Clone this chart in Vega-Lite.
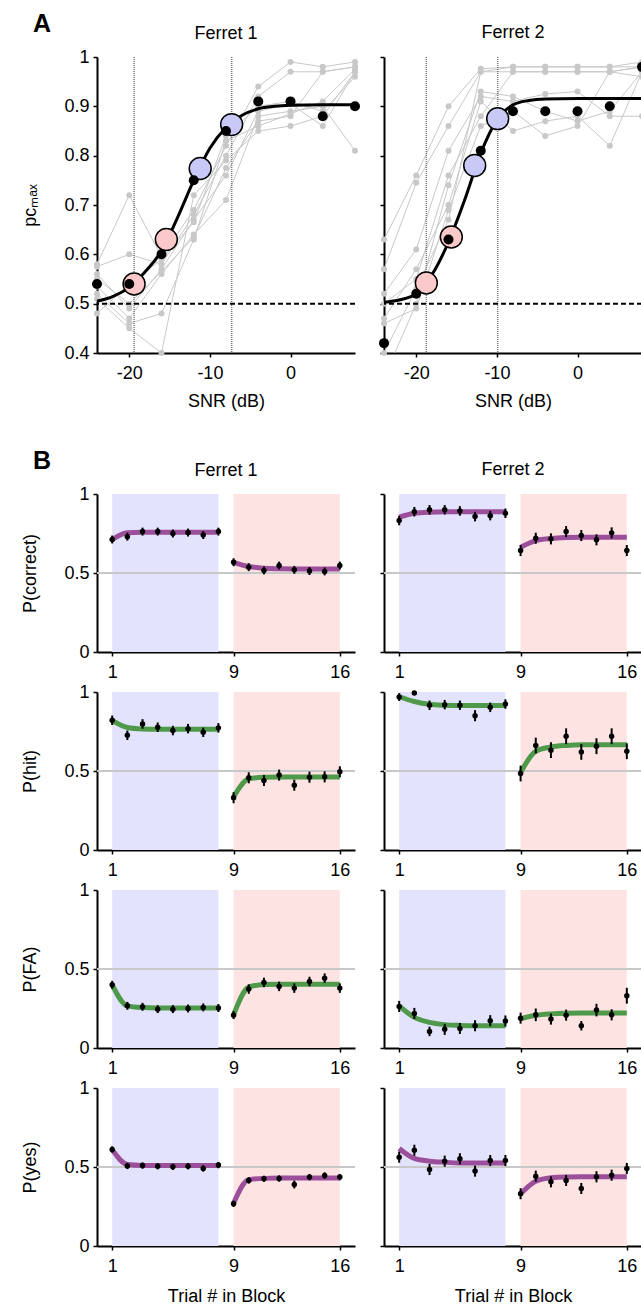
{
"$schema": "https://vega.github.io/schema/vega-lite/v6.json",
"padding": {"left": 21, "top": 12, "right": 0, "bottom": 4},
"autosize": {"type": "pad"},
"config": {
  "font": "Liberation Sans",
  "view": {"stroke": null},
  "axis": {"domainColor": "black", "domainWidth": 2, "tickColor": "black", "tickWidth": 1.5, "tickSize": 4, "labelColor": "black", "labelFontSize": 18, "labelFont": "Liberation Sans", "labelPadding": 4, "titleFontSize": 18, "titleFont": "Liberation Sans", "titleFontWeight": "normal", "titleColor": "black", "grid": false},
  "axisX": {"labelPadding": 7},
  "title": {"fontSize": 18, "fontWeight": "normal", "color": "black", "font": "Liberation Sans", "offset": 5}
},
"datasets": {
  "sess": [
    {"f":1,"s":1,"x":-24,"y":0.58},{"f":1,"s":1,"x":-20,"y":0.72},{"f":1,"s":1,"x":-16,"y":0.595},{"f":1,"s":1,"x":-12,"y":0.69},{"f":1,"s":1,"x":-8,"y":0.82},{"f":1,"s":1,"x":-4,"y":0.94},{"f":1,"s":1,"x":0,"y":0.99},{"f":1,"s":1,"x":4,"y":0.98},{"f":1,"s":1,"x":8,"y":0.99},
    {"f":1,"s":2,"x":-24,"y":0.575},{"f":1,"s":2,"x":-20,"y":0.60},{"f":1,"s":2,"x":-16,"y":0.58},{"f":1,"s":2,"x":-12,"y":0.68},{"f":1,"s":2,"x":-8,"y":0.80},{"f":1,"s":2,"x":-4,"y":0.92},{"f":1,"s":2,"x":0,"y":0.97},{"f":1,"s":2,"x":4,"y":0.97},{"f":1,"s":2,"x":8,"y":0.98},
    {"f":1,"s":3,"x":-24,"y":0.56},{"f":1,"s":3,"x":-20,"y":0.49},{"f":1,"s":3,"x":-16,"y":0.57},{"f":1,"s":3,"x":-12,"y":0.67},{"f":1,"s":3,"x":-8,"y":0.76},{"f":1,"s":3,"x":-4,"y":0.89},{"f":1,"s":3,"x":0,"y":0.905},{"f":1,"s":3,"x":4,"y":0.86},{"f":1,"s":3,"x":8,"y":0.97},
    {"f":1,"s":4,"x":-24,"y":0.535},{"f":1,"s":4,"x":-20,"y":0.47},{"f":1,"s":4,"x":-16,"y":0.56},{"f":1,"s":4,"x":-12,"y":0.64},{"f":1,"s":4,"x":-8,"y":0.71},{"f":1,"s":4,"x":-4,"y":0.88},{"f":1,"s":4,"x":0,"y":0.89},{"f":1,"s":4,"x":4,"y":0.90},{"f":1,"s":4,"x":8,"y":0.81},
    {"f":1,"s":5,"x":-24,"y":0.52},{"f":1,"s":5,"x":-20,"y":0.46},{"f":1,"s":5,"x":-16,"y":0.48},{"f":1,"s":5,"x":-12,"y":0.63},{"f":1,"s":5,"x":-8,"y":0.83},{"f":1,"s":5,"x":-4,"y":0.86},{"f":1,"s":5,"x":0,"y":0.885},{"f":1,"s":5,"x":4,"y":0.91},{"f":1,"s":5,"x":8,"y":0.975},
    {"f":1,"s":6,"x":-24,"y":0.51},{"f":1,"s":6,"x":-20,"y":0.45},{"f":1,"s":6,"x":-16,"y":0.40},{"f":1,"s":6,"x":-12,"y":0.72},{"f":1,"s":6,"x":-8,"y":0.79},{"f":1,"s":6,"x":-4,"y":0.85},{"f":1,"s":6,"x":0,"y":0.86},{"f":1,"s":6,"x":4,"y":0.88},{"f":1,"s":6,"x":8,"y":0.97},
    {"f":1,"s":7,"x":-24,"y":0.48},{"f":1,"s":7,"x":-20,"y":0.54},{"f":1,"s":7,"x":-16,"y":0.59},{"f":1,"s":7,"x":-12,"y":0.665},{"f":1,"s":7,"x":-8,"y":0.84},{"f":1,"s":7,"x":-4,"y":0.90},{"f":1,"s":7,"x":0,"y":0.91},{"f":1,"s":7,"x":4,"y":0.89},{"f":1,"s":7,"x":8,"y":0.96},
    {"f":1,"s":8,"x":-24,"y":0.55},{"f":1,"s":8,"x":-20,"y":0.50},{"f":1,"s":8,"x":-16,"y":0.565},{"f":1,"s":8,"x":-12,"y":0.635},{"f":1,"s":8,"x":-8,"y":0.775},{"f":1,"s":8,"x":-4,"y":0.87},{"f":1,"s":8,"x":0,"y":0.88},{"f":1,"s":8,"x":4,"y":0.97},{"f":1,"s":8,"x":8,"y":0.98},
    {"f":2,"s":1,"x":-24,"y":0.63},{"f":2,"s":1,"x":-20,"y":0.76},{"f":2,"s":1,"x":-16,"y":0.90},{"f":2,"s":1,"x":-12,"y":0.976},{"f":2,"s":1,"x":-8,"y":0.98},{"f":2,"s":1,"x":-4,"y":0.98},{"f":2,"s":1,"x":0,"y":0.98},{"f":2,"s":1,"x":4,"y":0.98},{"f":2,"s":1,"x":8,"y":0.99},
    {"f":2,"s":2,"x":-24,"y":0.57},{"f":2,"s":2,"x":-20,"y":0.745},{"f":2,"s":2,"x":-16,"y":0.86},{"f":2,"s":2,"x":-12,"y":0.97},{"f":2,"s":2,"x":-8,"y":0.97},{"f":2,"s":2,"x":-4,"y":0.97},{"f":2,"s":2,"x":0,"y":0.97},{"f":2,"s":2,"x":4,"y":0.97},{"f":2,"s":2,"x":8,"y":0.98},
    {"f":2,"s":3,"x":-24,"y":0.52},{"f":2,"s":3,"x":-20,"y":0.61},{"f":2,"s":3,"x":-16,"y":0.81},{"f":2,"s":3,"x":-12,"y":0.92},{"f":2,"s":3,"x":-8,"y":0.91},{"f":2,"s":3,"x":-4,"y":0.925},{"f":2,"s":3,"x":0,"y":0.93},{"f":2,"s":3,"x":4,"y":0.88},{"f":2,"s":3,"x":8,"y":0.88},
    {"f":2,"s":4,"x":-24,"y":0.47},{"f":2,"s":4,"x":-20,"y":0.57},{"f":2,"s":4,"x":-16,"y":0.70},{"f":2,"s":4,"x":-12,"y":0.91},{"f":2,"s":4,"x":-8,"y":0.85},{"f":2,"s":4,"x":-4,"y":0.87},{"f":2,"s":4,"x":0,"y":0.88},{"f":2,"s":4,"x":4,"y":0.82},{"f":2,"s":4,"x":8,"y":0.97},
    {"f":2,"s":5,"x":-24,"y":0.46},{"f":2,"s":5,"x":-20,"y":0.49},{"f":2,"s":5,"x":-16,"y":0.69},{"f":2,"s":5,"x":-12,"y":0.86},{"f":2,"s":5,"x":-8,"y":0.89},{"f":2,"s":5,"x":-4,"y":0.84},{"f":2,"s":5,"x":0,"y":0.86},{"f":2,"s":5,"x":4,"y":0.97},{"f":2,"s":5,"x":8,"y":0.98},
    {"f":2,"s":6,"x":-24,"y":0.40},{"f":2,"s":6,"x":-20,"y":0.53},{"f":2,"s":6,"x":-16,"y":0.67},{"f":2,"s":6,"x":-12,"y":0.97},{"f":2,"s":6,"x":-8,"y":0.98},{"f":2,"s":6,"x":-4,"y":0.98},{"f":2,"s":6,"x":0,"y":0.98},{"f":2,"s":6,"x":4,"y":0.98},{"f":2,"s":6,"x":8,"y":0.98},
    {"f":2,"s":7,"x":-24,"y":0.35},{"f":2,"s":7,"x":-20,"y":0.50},{"f":2,"s":7,"x":-16,"y":0.74},{"f":2,"s":7,"x":-12,"y":0.93},{"f":2,"s":7,"x":-8,"y":0.92},{"f":2,"s":7,"x":-4,"y":0.89},{"f":2,"s":7,"x":0,"y":0.87},{"f":2,"s":7,"x":4,"y":0.89},{"f":2,"s":7,"x":8,"y":0.97},
    {"f":2,"s":8,"x":-24,"y":0.50},{"f":2,"s":8,"x":-20,"y":0.55},{"f":2,"s":8,"x":-16,"y":0.76},{"f":2,"s":8,"x":-12,"y":0.88},{"f":2,"s":8,"x":-8,"y":0.97},{"f":2,"s":8,"x":-4,"y":0.97},{"f":2,"s":8,"x":0,"y":0.97},{"f":2,"s":8,"x":4,"y":0.97},{"f":2,"s":8,"x":8,"y":0.96}
  ],
  "mean": [
    {"f":1,"x":-24,"y":0.54},{"f":1,"x":-20,"y":0.54},{"f":1,"x":-16,"y":0.60},{"f":1,"x":-12,"y":0.75},{"f":1,"x":-8,"y":0.85},{"f":1,"x":-4,"y":0.91},{"f":1,"x":0,"y":0.91},{"f":1,"x":4,"y":0.88},{"f":1,"x":8,"y":0.90},
    {"f":2,"x":-24,"y":0.42},{"f":2,"x":-20,"y":0.52},{"f":2,"x":-16,"y":0.63},{"f":2,"x":-12,"y":0.81},{"f":2,"x":-8,"y":0.89},{"f":2,"x":-4,"y":0.89},{"f":2,"x":0,"y":0.89},{"f":2,"x":4,"y":0.90},{"f":2,"x":8,"y":0.98}
  ],
  "fitA": [
    {"f":1,"x":-24,"y":0.505},{"f":1,"x":-22,"y":0.515},{"f":1,"x":-20,"y":0.533},{"f":1,"x":-18,"y":0.565},{"f":1,"x":-16,"y":0.607},{"f":1,"x":-14,"y":0.675},{"f":1,"x":-12,"y":0.75},{"f":1,"x":-10,"y":0.815},{"f":1,"x":-8,"y":0.857},{"f":1,"x":-6,"y":0.882},{"f":1,"x":-4,"y":0.895},{"f":1,"x":-2,"y":0.9},{"f":1,"x":0,"y":0.902},{"f":1,"x":4,"y":0.903},{"f":1,"x":8,"y":0.903},
    {"f":2,"x":-24,"y":0.503},{"f":2,"x":-22,"y":0.508},{"f":2,"x":-20,"y":0.52},{"f":2,"x":-18,"y":0.56},{"f":2,"x":-16,"y":0.625},{"f":2,"x":-14,"y":0.71},{"f":2,"x":-12,"y":0.805},{"f":2,"x":-10,"y":0.872},{"f":2,"x":-8,"y":0.903},{"f":2,"x":-6,"y":0.912},{"f":2,"x":-4,"y":0.915},{"f":2,"x":0,"y":0.916},{"f":2,"x":8,"y":0.916}
  ],
  "circ": [
    {"f":1,"x":-19.4,"y":0.54,"c":"lo"},{"f":1,"x":-15.4,"y":0.63,"c":"lo"},{"f":1,"x":-11.2,"y":0.774,"c":"hi"},{"f":1,"x":-7.3,"y":0.863,"c":"hi"},
    {"f":2,"x":-18.75,"y":0.542,"c":"lo"},{"f":2,"x":-15.65,"y":0.635,"c":"lo"},{"f":2,"x":-12.75,"y":0.78,"c":"hi"},{"f":2,"x":-9.9,"y":0.875,"c":"hi"}
  ],
  "thr": [
    {"f":1,"x":-19.4},{"f":1,"x":-7.3},{"f":2,"x":-18.75},{"f":2,"x":-9.9}
  ],
  "blocks": [
    {"t":1,"t2":8,"b":"hi"},{"t":9,"t2":16,"b":"lo"}
  ],
  "obs": [
    {"f":1,"m":"c","t":1,"v":0.712,"e":0.025},{"f":1,"m":"c","t":2,"v":0.73,"e":0.025},{"f":1,"m":"c","t":3,"v":0.762,"e":0.025},{"f":1,"m":"c","t":4,"v":0.762,"e":0.025},{"f":1,"m":"c","t":5,"v":0.75,"e":0.025},{"f":1,"m":"c","t":6,"v":0.756,"e":0.025},{"f":1,"m":"c","t":7,"v":0.74,"e":0.025},{"f":1,"m":"c","t":8,"v":0.762,"e":0.025},
    {"f":1,"m":"c","t":9,"v":0.568,"e":0.025},{"f":1,"m":"c","t":10,"v":0.537,"e":0.025},{"f":1,"m":"c","t":11,"v":0.516,"e":0.025},{"f":1,"m":"c","t":12,"v":0.547,"e":0.025},{"f":1,"m":"c","t":13,"v":0.52,"e":0.025},{"f":1,"m":"c","t":14,"v":0.512,"e":0.025},{"f":1,"m":"c","t":15,"v":0.51,"e":0.025},{"f":1,"m":"c","t":16,"v":0.547,"e":0.025},
    {"f":2,"m":"c","t":1,"v":0.832,"e":0.03},{"f":2,"m":"c","t":2,"v":0.888,"e":0.03},{"f":2,"m":"c","t":3,"v":0.9,"e":0.03},{"f":2,"m":"c","t":4,"v":0.9,"e":0.03},{"f":2,"m":"c","t":5,"v":0.893,"e":0.03},{"f":2,"m":"c","t":6,"v":0.857,"e":0.03},{"f":2,"m":"c","t":7,"v":0.863,"e":0.03},{"f":2,"m":"c","t":8,"v":0.878,"e":0.03},
    {"f":2,"m":"c","t":9,"v":0.642,"e":0.035},{"f":2,"m":"c","t":10,"v":0.72,"e":0.035},{"f":2,"m":"c","t":11,"v":0.716,"e":0.035},{"f":2,"m":"c","t":12,"v":0.762,"e":0.035},{"f":2,"m":"c","t":13,"v":0.737,"e":0.035},{"f":2,"m":"c","t":14,"v":0.71,"e":0.035},{"f":2,"m":"c","t":15,"v":0.754,"e":0.035},{"f":2,"m":"c","t":16,"v":0.642,"e":0.035},
    {"f":1,"m":"h","t":1,"v":0.821,"e":0.03},{"f":1,"m":"h","t":2,"v":0.726,"e":0.03},{"f":1,"m":"h","t":3,"v":0.798,"e":0.03},{"f":1,"m":"h","t":4,"v":0.777,"e":0.03},{"f":1,"m":"h","t":5,"v":0.756,"e":0.03},{"f":1,"m":"h","t":6,"v":0.768,"e":0.03},{"f":1,"m":"h","t":7,"v":0.745,"e":0.03},{"f":1,"m":"h","t":8,"v":0.773,"e":0.03},
    {"f":1,"m":"h","t":9,"v":0.331,"e":0.035},{"f":1,"m":"h","t":10,"v":0.457,"e":0.035},{"f":1,"m":"h","t":11,"v":0.44,"e":0.035},{"f":1,"m":"h","t":12,"v":0.474,"e":0.035},{"f":1,"m":"h","t":13,"v":0.41,"e":0.035},{"f":1,"m":"h","t":14,"v":0.461,"e":0.035},{"f":1,"m":"h","t":15,"v":0.463,"e":0.035},{"f":1,"m":"h","t":16,"v":0.495,"e":0.035},
    {"f":2,"m":"h","t":1,"v":0.968,"e":0.025},{"f":2,"m":"h","t":2,"v":0.994,"e":0},{"f":2,"m":"h","t":3,"v":0.916,"e":0.03},{"f":2,"m":"h","t":4,"v":0.92,"e":0.03},{"f":2,"m":"h","t":5,"v":0.916,"e":0.03},{"f":2,"m":"h","t":6,"v":0.85,"e":0.035},{"f":2,"m":"h","t":7,"v":0.903,"e":0.03},{"f":2,"m":"h","t":8,"v":0.924,"e":0.03},
    {"f":2,"m":"h","t":9,"v":0.484,"e":0.05},{"f":2,"m":"h","t":10,"v":0.661,"e":0.05},{"f":2,"m":"h","t":11,"v":0.632,"e":0.05},{"f":2,"m":"h","t":12,"v":0.72,"e":0.05},{"f":2,"m":"h","t":13,"v":0.621,"e":0.05},{"f":2,"m":"h","t":14,"v":0.657,"e":0.05},{"f":2,"m":"h","t":15,"v":0.72,"e":0.05},{"f":2,"m":"h","t":16,"v":0.625,"e":0.05},
    {"f":1,"m":"fa","t":1,"v":0.4,"e":0.025},{"f":1,"m":"fa","t":2,"v":0.267,"e":0.025},{"f":1,"m":"fa","t":3,"v":0.261,"e":0.025},{"f":1,"m":"fa","t":4,"v":0.246,"e":0.025},{"f":1,"m":"fa","t":5,"v":0.246,"e":0.025},{"f":1,"m":"fa","t":6,"v":0.25,"e":0.025},{"f":1,"m":"fa","t":7,"v":0.257,"e":0.025},{"f":1,"m":"fa","t":8,"v":0.253,"e":0.025},
    {"f":1,"m":"fa","t":9,"v":0.208,"e":0.025},{"f":1,"m":"fa","t":10,"v":0.373,"e":0.03},{"f":1,"m":"fa","t":11,"v":0.415,"e":0.03},{"f":1,"m":"fa","t":12,"v":0.39,"e":0.03},{"f":1,"m":"fa","t":13,"v":0.379,"e":0.03},{"f":1,"m":"fa","t":14,"v":0.421,"e":0.03},{"f":1,"m":"fa","t":15,"v":0.442,"e":0.03},{"f":1,"m":"fa","t":16,"v":0.379,"e":0.03},
    {"f":2,"m":"fa","t":1,"v":0.263,"e":0.035},{"f":2,"m":"fa","t":2,"v":0.219,"e":0.035},{"f":2,"m":"fa","t":3,"v":0.105,"e":0.03},{"f":2,"m":"fa","t":4,"v":0.118,"e":0.035},{"f":2,"m":"fa","t":5,"v":0.124,"e":0.035},{"f":2,"m":"fa","t":6,"v":0.141,"e":0.035},{"f":2,"m":"fa","t":7,"v":0.173,"e":0.035},{"f":2,"m":"fa","t":8,"v":0.171,"e":0.035},
    {"f":2,"m":"fa","t":9,"v":0.189,"e":0.035},{"f":2,"m":"fa","t":10,"v":0.21,"e":0.04},{"f":2,"m":"fa","t":11,"v":0.183,"e":0.035},{"f":2,"m":"fa","t":12,"v":0.208,"e":0.035},{"f":2,"m":"fa","t":13,"v":0.141,"e":0.03},{"f":2,"m":"fa","t":14,"v":0.24,"e":0.04},{"f":2,"m":"fa","t":15,"v":0.21,"e":0.035},{"f":2,"m":"fa","t":16,"v":0.331,"e":0.05},
    {"f":1,"m":"y","t":1,"v":0.611,"e":0.02},{"f":1,"m":"y","t":2,"v":0.507,"e":0.02},{"f":1,"m":"y","t":3,"v":0.509,"e":0.02},{"f":1,"m":"y","t":4,"v":0.505,"e":0.02},{"f":1,"m":"y","t":5,"v":0.501,"e":0.02},{"f":1,"m":"y","t":6,"v":0.505,"e":0.02},{"f":1,"m":"y","t":7,"v":0.491,"e":0.02},{"f":1,"m":"y","t":8,"v":0.512,"e":0.02},
    {"f":1,"m":"y","t":9,"v":0.267,"e":0.02},{"f":1,"m":"y","t":10,"v":0.415,"e":0.02},{"f":1,"m":"y","t":11,"v":0.425,"e":0.02},{"f":1,"m":"y","t":12,"v":0.427,"e":0.02},{"f":1,"m":"y","t":13,"v":0.389,"e":0.025},{"f":1,"m":"y","t":14,"v":0.436,"e":0.02},{"f":1,"m":"y","t":15,"v":0.446,"e":0.02},{"f":1,"m":"y","t":16,"v":0.436,"e":0.02},
    {"f":2,"m":"y","t":1,"v":0.562,"e":0.035},{"f":2,"m":"y","t":2,"v":0.606,"e":0.035},{"f":2,"m":"y","t":3,"v":0.484,"e":0.035},{"f":2,"m":"y","t":4,"v":0.537,"e":0.035},{"f":2,"m":"y","t":5,"v":0.552,"e":0.035},{"f":2,"m":"y","t":6,"v":0.474,"e":0.035},{"f":2,"m":"y","t":7,"v":0.541,"e":0.035},{"f":2,"m":"y","t":8,"v":0.541,"e":0.035},
    {"f":2,"m":"y","t":9,"v":0.331,"e":0.035},{"f":2,"m":"y","t":10,"v":0.442,"e":0.035},{"f":2,"m":"y","t":11,"v":0.406,"e":0.035},{"f":2,"m":"y","t":12,"v":0.415,"e":0.035},{"f":2,"m":"y","t":13,"v":0.364,"e":0.035},{"f":2,"m":"y","t":14,"v":0.438,"e":0.035},{"f":2,"m":"y","t":15,"v":0.448,"e":0.035},{"f":2,"m":"y","t":16,"v":0.491,"e":0.035}
  ],
  "fit": [
    {"f":1,"m":"c","t":1,"v":0.712,"g":1},{"f":1,"m":"c","t":2,"v":0.755,"g":1},{"f":1,"m":"c","t":3,"v":0.758,"g":1},{"f":1,"m":"c","t":4,"v":0.758,"g":1},{"f":1,"m":"c","t":5,"v":0.758,"g":1},{"f":1,"m":"c","t":6,"v":0.758,"g":1},{"f":1,"m":"c","t":7,"v":0.758,"g":1},{"f":1,"m":"c","t":8,"v":0.758,"g":1},
    {"f":1,"m":"c","t":9,"v":0.568,"g":2},{"f":1,"m":"c","t":10,"v":0.541,"g":2},{"f":1,"m":"c","t":11,"v":0.53,"g":2},{"f":1,"m":"c","t":12,"v":0.527,"g":2},{"f":1,"m":"c","t":13,"v":0.526,"g":2},{"f":1,"m":"c","t":14,"v":0.526,"g":2},{"f":1,"m":"c","t":15,"v":0.526,"g":2},{"f":1,"m":"c","t":16,"v":0.526,"g":2},
    {"f":2,"m":"c","t":1,"v":0.853,"g":1},{"f":2,"m":"c","t":2,"v":0.878,"g":1},{"f":2,"m":"c","t":3,"v":0.885,"g":1},{"f":2,"m":"c","t":4,"v":0.887,"g":1},{"f":2,"m":"c","t":5,"v":0.887,"g":1},{"f":2,"m":"c","t":6,"v":0.887,"g":1},{"f":2,"m":"c","t":7,"v":0.887,"g":1},{"f":2,"m":"c","t":8,"v":0.887,"g":1},
    {"f":2,"m":"c","t":9,"v":0.663,"g":2},{"f":2,"m":"c","t":10,"v":0.705,"g":2},{"f":2,"m":"c","t":11,"v":0.718,"g":2},{"f":2,"m":"c","t":12,"v":0.724,"g":2},{"f":2,"m":"c","t":13,"v":0.726,"g":2},{"f":2,"m":"c","t":14,"v":0.726,"g":2},{"f":2,"m":"c","t":15,"v":0.726,"g":2},{"f":2,"m":"c","t":16,"v":0.726,"g":2},
    {"f":1,"m":"h","t":1,"v":0.82,"g":1},{"f":1,"m":"h","t":2,"v":0.775,"g":1},{"f":1,"m":"h","t":3,"v":0.766,"g":1},{"f":1,"m":"h","t":4,"v":0.764,"g":1},{"f":1,"m":"h","t":5,"v":0.764,"g":1},{"f":1,"m":"h","t":6,"v":0.764,"g":1},{"f":1,"m":"h","t":7,"v":0.764,"g":1},{"f":1,"m":"h","t":8,"v":0.764,"g":1},
    {"f":1,"m":"h","t":9,"v":0.335,"g":2},{"f":1,"m":"h","t":10,"v":0.45,"g":2},{"f":1,"m":"h","t":11,"v":0.46,"g":2},{"f":1,"m":"h","t":12,"v":0.462,"g":2},{"f":1,"m":"h","t":13,"v":0.462,"g":2},{"f":1,"m":"h","t":14,"v":0.462,"g":2},{"f":1,"m":"h","t":15,"v":0.462,"g":2},{"f":1,"m":"h","t":16,"v":0.462,"g":2},
    {"f":2,"m":"h","t":1,"v":0.97,"g":1},{"f":2,"m":"h","t":2,"v":0.94,"g":1},{"f":2,"m":"h","t":3,"v":0.922,"g":1},{"f":2,"m":"h","t":4,"v":0.916,"g":1},{"f":2,"m":"h","t":5,"v":0.914,"g":1},{"f":2,"m":"h","t":6,"v":0.914,"g":1},{"f":2,"m":"h","t":7,"v":0.914,"g":1},{"f":2,"m":"h","t":8,"v":0.914,"g":1},
    {"f":2,"m":"h","t":9,"v":0.49,"g":2},{"f":2,"m":"h","t":10,"v":0.625,"g":2},{"f":2,"m":"h","t":11,"v":0.652,"g":2},{"f":2,"m":"h","t":12,"v":0.662,"g":2},{"f":2,"m":"h","t":13,"v":0.666,"g":2},{"f":2,"m":"h","t":14,"v":0.666,"g":2},{"f":2,"m":"h","t":15,"v":0.666,"g":2},{"f":2,"m":"h","t":16,"v":0.666,"g":2},
    {"f":1,"m":"fa","t":1,"v":0.4,"g":1},{"f":1,"m":"fa","t":2,"v":0.267,"g":1},{"f":1,"m":"fa","t":3,"v":0.256,"g":1},{"f":1,"m":"fa","t":4,"v":0.253,"g":1},{"f":1,"m":"fa","t":5,"v":0.253,"g":1},{"f":1,"m":"fa","t":6,"v":0.253,"g":1},{"f":1,"m":"fa","t":7,"v":0.253,"g":1},{"f":1,"m":"fa","t":8,"v":0.253,"g":1},
    {"f":1,"m":"fa","t":9,"v":0.21,"g":2},{"f":1,"m":"fa","t":10,"v":0.385,"g":2},{"f":1,"m":"fa","t":11,"v":0.402,"g":2},{"f":1,"m":"fa","t":12,"v":0.404,"g":2},{"f":1,"m":"fa","t":13,"v":0.404,"g":2},{"f":1,"m":"fa","t":14,"v":0.404,"g":2},{"f":1,"m":"fa","t":15,"v":0.404,"g":2},{"f":1,"m":"fa","t":16,"v":0.404,"g":2},
    {"f":2,"m":"fa","t":1,"v":0.267,"g":1},{"f":2,"m":"fa","t":2,"v":0.194,"g":1},{"f":2,"m":"fa","t":3,"v":0.162,"g":1},{"f":2,"m":"fa","t":4,"v":0.148,"g":1},{"f":2,"m":"fa","t":5,"v":0.143,"g":1},{"f":2,"m":"fa","t":6,"v":0.141,"g":1},{"f":2,"m":"fa","t":7,"v":0.141,"g":1},{"f":2,"m":"fa","t":8,"v":0.141,"g":1},
    {"f":2,"m":"fa","t":9,"v":0.185,"g":2},{"f":2,"m":"fa","t":10,"v":0.207,"g":2},{"f":2,"m":"fa","t":11,"v":0.216,"g":2},{"f":2,"m":"fa","t":12,"v":0.22,"g":2},{"f":2,"m":"fa","t":13,"v":0.221,"g":2},{"f":2,"m":"fa","t":14,"v":0.221,"g":2},{"f":2,"m":"fa","t":15,"v":0.221,"g":2},{"f":2,"m":"fa","t":16,"v":0.221,"g":2},
    {"f":1,"m":"y","t":1,"v":0.61,"g":1},{"f":1,"m":"y","t":2,"v":0.516,"g":1},{"f":1,"m":"y","t":3,"v":0.51,"g":1},{"f":1,"m":"y","t":4,"v":0.509,"g":1},{"f":1,"m":"y","t":5,"v":0.509,"g":1},{"f":1,"m":"y","t":6,"v":0.509,"g":1},{"f":1,"m":"y","t":7,"v":0.509,"g":1},{"f":1,"m":"y","t":8,"v":0.509,"g":1},
    {"f":1,"m":"y","t":9,"v":0.27,"g":2},{"f":1,"m":"y","t":10,"v":0.42,"g":2},{"f":1,"m":"y","t":11,"v":0.428,"g":2},{"f":1,"m":"y","t":12,"v":0.43,"g":2},{"f":1,"m":"y","t":13,"v":0.43,"g":2},{"f":1,"m":"y","t":14,"v":0.43,"g":2},{"f":1,"m":"y","t":15,"v":0.43,"g":2},{"f":1,"m":"y","t":16,"v":0.43,"g":2},
    {"f":2,"m":"y","t":1,"v":0.617,"g":1},{"f":2,"m":"y","t":2,"v":0.554,"g":1},{"f":2,"m":"y","t":3,"v":0.537,"g":1},{"f":2,"m":"y","t":4,"v":0.53,"g":1},{"f":2,"m":"y","t":5,"v":0.526,"g":1},{"f":2,"m":"y","t":6,"v":0.526,"g":1},{"f":2,"m":"y","t":7,"v":0.526,"g":1},{"f":2,"m":"y","t":8,"v":0.526,"g":1},
    {"f":2,"m":"y","t":9,"v":0.33,"g":2},{"f":2,"m":"y","t":10,"v":0.41,"g":2},{"f":2,"m":"y","t":11,"v":0.432,"g":2},{"f":2,"m":"y","t":12,"v":0.437,"g":2},{"f":2,"m":"y","t":13,"v":0.438,"g":2},{"f":2,"m":"y","t":14,"v":0.438,"g":2},{"f":2,"m":"y","t":15,"v":0.438,"g":2},{"f":2,"m":"y","t":16,"v":0.438,"g":2}
  ]
},
"spacing": 39,
"resolve": {"scale": {"color": "independent"}},
"vconcat": [
  {
    "title": {"text": "A", "anchor": "start", "frame": "group", "fontSize": 25, "fontWeight": "bold", "dx": -64, "dy": 13, "offset": 0},
    "bounds": "flush",
    "spacing": 29,
    "hconcat": [
      {
        "width": 258, "height": 296,
        "title": {"text": "Ferret 1"},
        "layer": [
          {"data": {"name": "sess"}, "transform": [{"filter": "datum.f == 1"}], "mark": {"type": "line", "color": "#c8c8c8", "strokeWidth": 1, "clip": true},
           "encoding": {
             "x": {"field": "x", "type": "quantitative", "scale": {"domain": [-24, 8], "nice": false, "zero": false}, "axis": {"values": [-20, -10, 0], "labelExpr": "'' + datum.value", "title": "SNR (dB)", "titlePadding": 10}},
             "y": {"field": "y", "type": "quantitative", "scale": {"domain": [0.4, 1], "nice": false, "zero": false}, "axis": {"values": [0.4, 0.5, 0.6, 0.7, 0.8, 0.9, 1], "format": "~g", "title": "pcₘₐₓ", "titlePadding": 24}},
             "detail": {"field": "s"}}},
          {"data": {"name": "sess"}, "transform": [{"filter": "datum.f == 1 && datum.y >= 0.4"}], "mark": {"type": "point", "filled": true, "color": "#c8c8c8", "size": 36, "opacity": 1},
           "encoding": {"x": {"field": "x", "type": "quantitative", "scale": {"domain": [-24, 8], "nice": false, "zero": false}}, "y": {"field": "y", "type": "quantitative", "scale": {"domain": [0.4, 1], "nice": false, "zero": false}}}},
          {"data": {"name": "thr"}, "transform": [{"filter": "datum.f == 1"}], "mark": {"type": "rule", "color": "#777777", "strokeWidth": 1.5, "strokeDash": [1, 1]},
           "encoding": {"x": {"field": "x", "type": "quantitative", "scale": {"domain": [-24, 8], "nice": false, "zero": false}}}},
          {"data": {"values": [{"level": 0.5}]}, "mark": {"type": "rule", "color": "black", "strokeWidth": 2, "strokeDash": [5, 3]},
           "encoding": {"y": {"field": "level", "type": "quantitative", "scale": {"domain": [0.4, 1], "nice": false, "zero": false}}}},
          {"data": {"name": "fitA"}, "transform": [{"filter": "datum.f == 1"}], "mark": {"type": "line", "color": "black", "strokeWidth": 3, "interpolate": "monotone"},
           "encoding": {"x": {"field": "x", "type": "quantitative", "scale": {"domain": [-24, 8], "nice": false, "zero": false}}, "y": {"field": "y", "type": "quantitative", "scale": {"domain": [0.4, 1], "nice": false, "zero": false}}}},
          {"data": {"name": "circ"}, "transform": [{"filter": "datum.f == 1"}], "mark": {"type": "point", "filled": true, "size": 480, "stroke": "black", "strokeWidth": 1.5, "opacity": 1},
           "encoding": {"x": {"field": "x", "type": "quantitative", "scale": {"domain": [-24, 8], "nice": false, "zero": false}}, "y": {"field": "y", "type": "quantitative", "scale": {"domain": [0.4, 1], "nice": false, "zero": false}},
             "fill": {"field": "c", "type": "nominal", "scale": {"domain": ["lo", "hi"], "range": ["#fbc9c9", "#c9c9f7"]}, "legend": null}}},
          {"data": {"name": "mean"}, "transform": [{"filter": "datum.f == 1"}], "mark": {"type": "point", "filled": true, "color": "black", "size": 100, "opacity": 1},
           "encoding": {"x": {"field": "x", "type": "quantitative", "scale": {"domain": [-24, 8], "nice": false, "zero": false}}, "y": {"field": "y", "type": "quantitative", "scale": {"domain": [0.4, 1], "nice": false, "zero": false}}}}
        ]
      },
      {
        "width": 258, "height": 296,
        "title": {"text": "Ferret 2", "offset": 14},
        "layer": [
          {"data": {"name": "sess"}, "transform": [{"filter": "datum.f == 2"}], "mark": {"type": "line", "color": "#c8c8c8", "strokeWidth": 1, "clip": true},
           "encoding": {
             "x": {"field": "x", "type": "quantitative", "scale": {"domain": [-24, 8], "nice": false, "zero": false}, "axis": {"values": [-20, -10, 0], "labelExpr": "'' + datum.value", "title": "SNR (dB)", "titlePadding": 10}},
             "y": {"field": "y", "type": "quantitative", "scale": {"domain": [0.4, 1], "nice": false, "zero": false}, "axis": {"values": [0.4, 0.5, 0.6, 0.7, 0.8, 0.9, 1], "labels": false, "title": null}},
             "detail": {"field": "s"}}},
          {"data": {"name": "sess"}, "transform": [{"filter": "datum.f == 2 && datum.y >= 0.4"}], "mark": {"type": "point", "filled": true, "color": "#c8c8c8", "size": 36, "opacity": 1},
           "encoding": {"x": {"field": "x", "type": "quantitative", "scale": {"domain": [-24, 8], "nice": false, "zero": false}}, "y": {"field": "y", "type": "quantitative", "scale": {"domain": [0.4, 1], "nice": false, "zero": false}}}},
          {"data": {"name": "thr"}, "transform": [{"filter": "datum.f == 2"}], "mark": {"type": "rule", "color": "#777777", "strokeWidth": 1.5, "strokeDash": [1, 1]},
           "encoding": {"x": {"field": "x", "type": "quantitative", "scale": {"domain": [-24, 8], "nice": false, "zero": false}}}},
          {"data": {"values": [{"level": 0.5}]}, "mark": {"type": "rule", "color": "black", "strokeWidth": 2, "strokeDash": [5, 3]},
           "encoding": {"y": {"field": "level", "type": "quantitative", "scale": {"domain": [0.4, 1], "nice": false, "zero": false}}}},
          {"data": {"name": "fitA"}, "transform": [{"filter": "datum.f == 2"}], "mark": {"type": "line", "color": "black", "strokeWidth": 3, "interpolate": "monotone"},
           "encoding": {"x": {"field": "x", "type": "quantitative", "scale": {"domain": [-24, 8], "nice": false, "zero": false}}, "y": {"field": "y", "type": "quantitative", "scale": {"domain": [0.4, 1], "nice": false, "zero": false}}}},
          {"data": {"name": "circ"}, "transform": [{"filter": "datum.f == 2"}], "mark": {"type": "point", "filled": true, "size": 480, "stroke": "black", "strokeWidth": 1.5, "opacity": 1},
           "encoding": {"x": {"field": "x", "type": "quantitative", "scale": {"domain": [-24, 8], "nice": false, "zero": false}}, "y": {"field": "y", "type": "quantitative", "scale": {"domain": [0.4, 1], "nice": false, "zero": false}},
             "fill": {"field": "c", "type": "nominal", "scale": {"domain": ["lo", "hi"], "range": ["#fbc9c9", "#c9c9f7"]}, "legend": null}}},
          {"data": {"name": "mean"}, "transform": [{"filter": "datum.f == 2"}], "mark": {"type": "point", "filled": true, "color": "black", "size": 100, "opacity": 1},
           "encoding": {"x": {"field": "x", "type": "quantitative", "scale": {"domain": [-24, 8], "nice": false, "zero": false}}, "y": {"field": "y", "type": "quantitative", "scale": {"domain": [0.4, 1], "nice": false, "zero": false}}}}
        ]
      }
    ]
  },
  {
    "title": {"text": "B", "anchor": "start", "frame": "group", "fontSize": 25, "fontWeight": "bold", "dx": -64, "dy": 13, "offset": 0},
    "bounds": "flush",
    "columns": 2,
    "spacing": {"row": 40, "column": 29},
    "concat": [
        {"width": 258, "height": 158, "title": {"text": "Ferret 1"},
         "layer": [
          {"data": {"name": "blocks"}, "mark": "rect", "encoding": {
             "x": {"field": "t", "type": "quantitative", "scale": {"domain": [0, 17], "nice": false, "zero": false}, "axis": {"values": [1, 9, 16], "title": null}},
             "x2": {"field": "t2"},
             "y": {"datum": 0, "type": "quantitative", "scale": {"domain": [0, 1], "nice": false}, "axis": {"values": [0, 0.5, 1], "format": "~g", "title": "P(correct)", "titlePadding": 24}},
             "y2": {"datum": 1},
             "color": {"field": "b", "type": "nominal", "scale": {"domain": ["hi", "lo"], "range": ["#e3e3fd", "#fee3e3"]}, "legend": null}}},
          {"data": {"values": [{"level": 0.5}]}, "mark": {"type": "rule", "color": "#c8c8c8", "strokeWidth": 2}, "encoding": {"y": {"field": "level", "type": "quantitative", "title": "P(correct)", "scale": {"domain": [0, 1], "nice": false}}}},
          {"data": {"name": "fit"}, "transform": [{"filter": "datum.f == 1 && datum.m == 'c'"}], "mark": {"type": "line", "color": "#9b4f9b", "strokeWidth": 5, "interpolate": "monotone"},
           "encoding": {"x": {"field": "t", "type": "quantitative", "scale": {"domain": [0, 17], "nice": false, "zero": false}}, "y": {"field": "v", "type": "quantitative", "title": "P(correct)", "scale": {"domain": [0, 1], "nice": false}}, "detail": {"field": "g"}}},
          {"data": {"name": "obs"}, "transform": [{"filter": "datum.f == 1 && datum.m == 'c'"}], "mark": {"type": "errorbar", "color": "black", "thickness": 2},
           "encoding": {"x": {"field": "t", "type": "quantitative", "scale": {"domain": [0, 17], "nice": false, "zero": false}}, "y": {"field": "v", "type": "quantitative", "title": "P(correct)", "scale": {"domain": [0, 1], "nice": false}}, "yError": {"field": "e"}}},
          {"data": {"name": "obs"}, "transform": [{"filter": "datum.f == 1 && datum.m == 'c'"}], "mark": {"type": "point", "filled": true, "color": "black", "size": 30, "opacity": 1},
           "encoding": {"x": {"field": "t", "type": "quantitative", "scale": {"domain": [0, 17], "nice": false, "zero": false}}, "y": {"field": "v", "type": "quantitative", "title": "P(correct)", "scale": {"domain": [0, 1], "nice": false}}}}
         ]},
        {"width": 258, "height": 158, "title": {"text": "Ferret 2", "offset": 14},
         "layer": [
          {"data": {"name": "blocks"}, "mark": "rect", "encoding": {
             "x": {"field": "t", "type": "quantitative", "scale": {"domain": [0, 17], "nice": false, "zero": false}, "axis": {"values": [1, 9, 16], "title": null}},
             "x2": {"field": "t2"},
             "y": {"datum": 0, "type": "quantitative", "scale": {"domain": [0, 1], "nice": false}, "axis": {"values": [0, 0.5, 1], "labels": false, "title": null}},
             "y2": {"datum": 1},
             "color": {"field": "b", "type": "nominal", "scale": {"domain": ["hi", "lo"], "range": ["#e3e3fd", "#fee3e3"]}, "legend": null}}},
          {"data": {"values": [{"level": 0.5}]}, "mark": {"type": "rule", "color": "#c8c8c8", "strokeWidth": 2}, "encoding": {"y": {"field": "level", "type": "quantitative", "scale": {"domain": [0, 1], "nice": false}}}},
          {"data": {"name": "fit"}, "transform": [{"filter": "datum.f == 2 && datum.m == 'c'"}], "mark": {"type": "line", "color": "#9b4f9b", "strokeWidth": 5, "interpolate": "monotone"},
           "encoding": {"x": {"field": "t", "type": "quantitative", "scale": {"domain": [0, 17], "nice": false, "zero": false}}, "y": {"field": "v", "type": "quantitative", "scale": {"domain": [0, 1], "nice": false}}, "detail": {"field": "g"}}},
          {"data": {"name": "obs"}, "transform": [{"filter": "datum.f == 2 && datum.m == 'c'"}], "mark": {"type": "errorbar", "color": "black", "thickness": 2},
           "encoding": {"x": {"field": "t", "type": "quantitative", "scale": {"domain": [0, 17], "nice": false, "zero": false}}, "y": {"field": "v", "type": "quantitative", "scale": {"domain": [0, 1], "nice": false}}, "yError": {"field": "e"}}},
          {"data": {"name": "obs"}, "transform": [{"filter": "datum.f == 2 && datum.m == 'c'"}], "mark": {"type": "point", "filled": true, "color": "black", "size": 30, "opacity": 1},
           "encoding": {"x": {"field": "t", "type": "quantitative", "scale": {"domain": [0, 17], "nice": false, "zero": false}}, "y": {"field": "v", "type": "quantitative", "scale": {"domain": [0, 1], "nice": false}}}}
         ]},
        {"width": 258, "height": 158,
         "layer": [
          {"data": {"name": "blocks"}, "mark": "rect", "encoding": {
             "x": {"field": "t", "type": "quantitative", "scale": {"domain": [0, 17], "nice": false, "zero": false}, "axis": {"values": [1, 9, 16], "title": null}},
             "x2": {"field": "t2"},
             "y": {"datum": 0, "type": "quantitative", "scale": {"domain": [0, 1], "nice": false}, "axis": {"values": [0, 0.5, 1], "format": "~g", "title": "P(hit)", "titlePadding": 24}},
             "y2": {"datum": 1},
             "color": {"field": "b", "type": "nominal", "scale": {"domain": ["hi", "lo"], "range": ["#e3e3fd", "#fee3e3"]}, "legend": null}}},
          {"data": {"values": [{"level": 0.5}]}, "mark": {"type": "rule", "color": "#c8c8c8", "strokeWidth": 2}, "encoding": {"y": {"field": "level", "type": "quantitative", "title": "P(hit)", "scale": {"domain": [0, 1], "nice": false}}}},
          {"data": {"name": "fit"}, "transform": [{"filter": "datum.f == 1 && datum.m == 'h'"}], "mark": {"type": "line", "color": "#4e9a4a", "strokeWidth": 5, "interpolate": "monotone"},
           "encoding": {"x": {"field": "t", "type": "quantitative", "scale": {"domain": [0, 17], "nice": false, "zero": false}}, "y": {"field": "v", "type": "quantitative", "title": "P(hit)", "scale": {"domain": [0, 1], "nice": false}}, "detail": {"field": "g"}}},
          {"data": {"name": "obs"}, "transform": [{"filter": "datum.f == 1 && datum.m == 'h'"}], "mark": {"type": "errorbar", "color": "black", "thickness": 2},
           "encoding": {"x": {"field": "t", "type": "quantitative", "scale": {"domain": [0, 17], "nice": false, "zero": false}}, "y": {"field": "v", "type": "quantitative", "title": "P(hit)", "scale": {"domain": [0, 1], "nice": false}}, "yError": {"field": "e"}}},
          {"data": {"name": "obs"}, "transform": [{"filter": "datum.f == 1 && datum.m == 'h'"}], "mark": {"type": "point", "filled": true, "color": "black", "size": 30, "opacity": 1},
           "encoding": {"x": {"field": "t", "type": "quantitative", "scale": {"domain": [0, 17], "nice": false, "zero": false}}, "y": {"field": "v", "type": "quantitative", "title": "P(hit)", "scale": {"domain": [0, 1], "nice": false}}}}
         ]},
        {"width": 258, "height": 158,
         "layer": [
          {"data": {"name": "blocks"}, "mark": "rect", "encoding": {
             "x": {"field": "t", "type": "quantitative", "scale": {"domain": [0, 17], "nice": false, "zero": false}, "axis": {"values": [1, 9, 16], "title": null}},
             "x2": {"field": "t2"},
             "y": {"datum": 0, "type": "quantitative", "scale": {"domain": [0, 1], "nice": false}, "axis": {"values": [0, 0.5, 1], "labels": false, "title": null}},
             "y2": {"datum": 1},
             "color": {"field": "b", "type": "nominal", "scale": {"domain": ["hi", "lo"], "range": ["#e3e3fd", "#fee3e3"]}, "legend": null}}},
          {"data": {"values": [{"level": 0.5}]}, "mark": {"type": "rule", "color": "#c8c8c8", "strokeWidth": 2}, "encoding": {"y": {"field": "level", "type": "quantitative", "scale": {"domain": [0, 1], "nice": false}}}},
          {"data": {"name": "fit"}, "transform": [{"filter": "datum.f == 2 && datum.m == 'h'"}], "mark": {"type": "line", "color": "#4e9a4a", "strokeWidth": 5, "interpolate": "monotone"},
           "encoding": {"x": {"field": "t", "type": "quantitative", "scale": {"domain": [0, 17], "nice": false, "zero": false}}, "y": {"field": "v", "type": "quantitative", "scale": {"domain": [0, 1], "nice": false}}, "detail": {"field": "g"}}},
          {"data": {"name": "obs"}, "transform": [{"filter": "datum.f == 2 && datum.m == 'h'"}], "mark": {"type": "errorbar", "color": "black", "thickness": 2},
           "encoding": {"x": {"field": "t", "type": "quantitative", "scale": {"domain": [0, 17], "nice": false, "zero": false}}, "y": {"field": "v", "type": "quantitative", "scale": {"domain": [0, 1], "nice": false}}, "yError": {"field": "e"}}},
          {"data": {"name": "obs"}, "transform": [{"filter": "datum.f == 2 && datum.m == 'h'"}], "mark": {"type": "point", "filled": true, "color": "black", "size": 30, "opacity": 1},
           "encoding": {"x": {"field": "t", "type": "quantitative", "scale": {"domain": [0, 17], "nice": false, "zero": false}}, "y": {"field": "v", "type": "quantitative", "scale": {"domain": [0, 1], "nice": false}}}}
         ]},
        {"width": 258, "height": 158,
         "layer": [
          {"data": {"name": "blocks"}, "mark": "rect", "encoding": {
             "x": {"field": "t", "type": "quantitative", "scale": {"domain": [0, 17], "nice": false, "zero": false}, "axis": {"values": [1, 9, 16], "title": null}},
             "x2": {"field": "t2"},
             "y": {"datum": 0, "type": "quantitative", "scale": {"domain": [0, 1], "nice": false}, "axis": {"values": [0, 0.5, 1], "format": "~g", "title": "P(FA)", "titlePadding": 24}},
             "y2": {"datum": 1},
             "color": {"field": "b", "type": "nominal", "scale": {"domain": ["hi", "lo"], "range": ["#e3e3fd", "#fee3e3"]}, "legend": null}}},
          {"data": {"values": [{"level": 0.5}]}, "mark": {"type": "rule", "color": "#c8c8c8", "strokeWidth": 2}, "encoding": {"y": {"field": "level", "type": "quantitative", "title": "P(FA)", "scale": {"domain": [0, 1], "nice": false}}}},
          {"data": {"name": "fit"}, "transform": [{"filter": "datum.f == 1 && datum.m == 'fa'"}], "mark": {"type": "line", "color": "#4e9a4a", "strokeWidth": 5, "interpolate": "monotone"},
           "encoding": {"x": {"field": "t", "type": "quantitative", "scale": {"domain": [0, 17], "nice": false, "zero": false}}, "y": {"field": "v", "type": "quantitative", "title": "P(FA)", "scale": {"domain": [0, 1], "nice": false}}, "detail": {"field": "g"}}},
          {"data": {"name": "obs"}, "transform": [{"filter": "datum.f == 1 && datum.m == 'fa'"}], "mark": {"type": "errorbar", "color": "black", "thickness": 2},
           "encoding": {"x": {"field": "t", "type": "quantitative", "scale": {"domain": [0, 17], "nice": false, "zero": false}}, "y": {"field": "v", "type": "quantitative", "title": "P(FA)", "scale": {"domain": [0, 1], "nice": false}}, "yError": {"field": "e"}}},
          {"data": {"name": "obs"}, "transform": [{"filter": "datum.f == 1 && datum.m == 'fa'"}], "mark": {"type": "point", "filled": true, "color": "black", "size": 30, "opacity": 1},
           "encoding": {"x": {"field": "t", "type": "quantitative", "scale": {"domain": [0, 17], "nice": false, "zero": false}}, "y": {"field": "v", "type": "quantitative", "title": "P(FA)", "scale": {"domain": [0, 1], "nice": false}}}}
         ]},
        {"width": 258, "height": 158,
         "layer": [
          {"data": {"name": "blocks"}, "mark": "rect", "encoding": {
             "x": {"field": "t", "type": "quantitative", "scale": {"domain": [0, 17], "nice": false, "zero": false}, "axis": {"values": [1, 9, 16], "title": null}},
             "x2": {"field": "t2"},
             "y": {"datum": 0, "type": "quantitative", "scale": {"domain": [0, 1], "nice": false}, "axis": {"values": [0, 0.5, 1], "labels": false, "title": null}},
             "y2": {"datum": 1},
             "color": {"field": "b", "type": "nominal", "scale": {"domain": ["hi", "lo"], "range": ["#e3e3fd", "#fee3e3"]}, "legend": null}}},
          {"data": {"values": [{"level": 0.5}]}, "mark": {"type": "rule", "color": "#c8c8c8", "strokeWidth": 2}, "encoding": {"y": {"field": "level", "type": "quantitative", "scale": {"domain": [0, 1], "nice": false}}}},
          {"data": {"name": "fit"}, "transform": [{"filter": "datum.f == 2 && datum.m == 'fa'"}], "mark": {"type": "line", "color": "#4e9a4a", "strokeWidth": 5, "interpolate": "monotone"},
           "encoding": {"x": {"field": "t", "type": "quantitative", "scale": {"domain": [0, 17], "nice": false, "zero": false}}, "y": {"field": "v", "type": "quantitative", "scale": {"domain": [0, 1], "nice": false}}, "detail": {"field": "g"}}},
          {"data": {"name": "obs"}, "transform": [{"filter": "datum.f == 2 && datum.m == 'fa'"}], "mark": {"type": "errorbar", "color": "black", "thickness": 2},
           "encoding": {"x": {"field": "t", "type": "quantitative", "scale": {"domain": [0, 17], "nice": false, "zero": false}}, "y": {"field": "v", "type": "quantitative", "scale": {"domain": [0, 1], "nice": false}}, "yError": {"field": "e"}}},
          {"data": {"name": "obs"}, "transform": [{"filter": "datum.f == 2 && datum.m == 'fa'"}], "mark": {"type": "point", "filled": true, "color": "black", "size": 30, "opacity": 1},
           "encoding": {"x": {"field": "t", "type": "quantitative", "scale": {"domain": [0, 17], "nice": false, "zero": false}}, "y": {"field": "v", "type": "quantitative", "scale": {"domain": [0, 1], "nice": false}}}}
         ]},
        {"width": 258, "height": 158,
         "layer": [
          {"data": {"name": "blocks"}, "mark": "rect", "encoding": {
             "x": {"field": "t", "type": "quantitative", "scale": {"domain": [0, 17], "nice": false, "zero": false}, "axis": {"values": [1, 9, 16], "title": "Trial # in Block", "titlePadding": 12}},
             "x2": {"field": "t2"},
             "y": {"datum": 0, "type": "quantitative", "scale": {"domain": [0, 1], "nice": false}, "axis": {"values": [0, 0.5, 1], "format": "~g", "title": "P(yes)", "titlePadding": 24}},
             "y2": {"datum": 1},
             "color": {"field": "b", "type": "nominal", "scale": {"domain": ["hi", "lo"], "range": ["#e3e3fd", "#fee3e3"]}, "legend": null}}},
          {"data": {"values": [{"level": 0.5}]}, "mark": {"type": "rule", "color": "#c8c8c8", "strokeWidth": 2}, "encoding": {"y": {"field": "level", "type": "quantitative", "title": "P(yes)", "scale": {"domain": [0, 1], "nice": false}}}},
          {"data": {"name": "fit"}, "transform": [{"filter": "datum.f == 1 && datum.m == 'y'"}], "mark": {"type": "line", "color": "#9b4f9b", "strokeWidth": 5, "interpolate": "monotone"},
           "encoding": {"x": {"field": "t", "type": "quantitative", "scale": {"domain": [0, 17], "nice": false, "zero": false}}, "y": {"field": "v", "type": "quantitative", "title": "P(yes)", "scale": {"domain": [0, 1], "nice": false}}, "detail": {"field": "g"}}},
          {"data": {"name": "obs"}, "transform": [{"filter": "datum.f == 1 && datum.m == 'y'"}], "mark": {"type": "errorbar", "color": "black", "thickness": 2},
           "encoding": {"x": {"field": "t", "type": "quantitative", "scale": {"domain": [0, 17], "nice": false, "zero": false}}, "y": {"field": "v", "type": "quantitative", "title": "P(yes)", "scale": {"domain": [0, 1], "nice": false}}, "yError": {"field": "e"}}},
          {"data": {"name": "obs"}, "transform": [{"filter": "datum.f == 1 && datum.m == 'y'"}], "mark": {"type": "point", "filled": true, "color": "black", "size": 30, "opacity": 1},
           "encoding": {"x": {"field": "t", "type": "quantitative", "scale": {"domain": [0, 17], "nice": false, "zero": false}}, "y": {"field": "v", "type": "quantitative", "title": "P(yes)", "scale": {"domain": [0, 1], "nice": false}}}}
         ]},
        {"width": 258, "height": 158,
         "layer": [
          {"data": {"name": "blocks"}, "mark": "rect", "encoding": {
             "x": {"field": "t", "type": "quantitative", "scale": {"domain": [0, 17], "nice": false, "zero": false}, "axis": {"values": [1, 9, 16], "title": "Trial # in Block", "titlePadding": 12}},
             "x2": {"field": "t2"},
             "y": {"datum": 0, "type": "quantitative", "scale": {"domain": [0, 1], "nice": false}, "axis": {"values": [0, 0.5, 1], "labels": false, "title": null}},
             "y2": {"datum": 1},
             "color": {"field": "b", "type": "nominal", "scale": {"domain": ["hi", "lo"], "range": ["#e3e3fd", "#fee3e3"]}, "legend": null}}},
          {"data": {"values": [{"level": 0.5}]}, "mark": {"type": "rule", "color": "#c8c8c8", "strokeWidth": 2}, "encoding": {"y": {"field": "level", "type": "quantitative", "scale": {"domain": [0, 1], "nice": false}}}},
          {"data": {"name": "fit"}, "transform": [{"filter": "datum.f == 2 && datum.m == 'y'"}], "mark": {"type": "line", "color": "#9b4f9b", "strokeWidth": 5, "interpolate": "monotone"},
           "encoding": {"x": {"field": "t", "type": "quantitative", "scale": {"domain": [0, 17], "nice": false, "zero": false}}, "y": {"field": "v", "type": "quantitative", "scale": {"domain": [0, 1], "nice": false}}, "detail": {"field": "g"}}},
          {"data": {"name": "obs"}, "transform": [{"filter": "datum.f == 2 && datum.m == 'y'"}], "mark": {"type": "errorbar", "color": "black", "thickness": 2},
           "encoding": {"x": {"field": "t", "type": "quantitative", "scale": {"domain": [0, 17], "nice": false, "zero": false}}, "y": {"field": "v", "type": "quantitative", "scale": {"domain": [0, 1], "nice": false}}, "yError": {"field": "e"}}},
          {"data": {"name": "obs"}, "transform": [{"filter": "datum.f == 2 && datum.m == 'y'"}], "mark": {"type": "point", "filled": true, "color": "black", "size": 30, "opacity": 1},
           "encoding": {"x": {"field": "t", "type": "quantitative", "scale": {"domain": [0, 17], "nice": false, "zero": false}}, "y": {"field": "v", "type": "quantitative", "scale": {"domain": [0, 1], "nice": false}}}}
         ]}
    ]
  }
]
}
